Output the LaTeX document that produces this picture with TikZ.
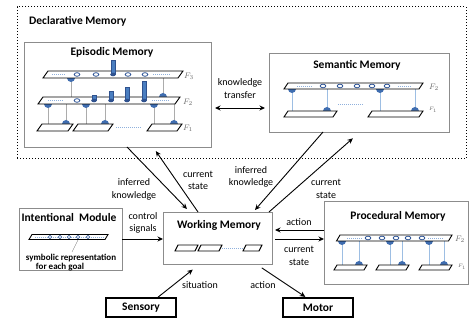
\documentclass[tikz,border=0pt]{standalone}
\usepackage{fontspec}
\setmainfont{Carlito}
\usetikzlibrary{arrows.meta}

\definecolor{boxgray}{HTML}{8C8C8C}
\definecolor{bumpblue}{HTML}{3F6DB0}
\definecolor{pillarblue}{HTML}{4A7EC0}
\definecolor{pillaredge}{HTML}{2F528F}
\definecolor{ringblue}{HTML}{2F5597}
\definecolor{linkblue}{HTML}{9DBEE3}
\definecolor{dotblue}{HTML}{8FB0DC}

\tikzset{
  memobox/.style={draw=boxgray, line width=0.7pt, fill=white, inner sep=0pt, outer sep=0pt},
  iobox/.style={draw=black, line width=1.1pt, fill=white, inner sep=0pt, outer sep=0pt,
    font=\fontsize{11.5}{13}\selectfont\bfseries},
  title/.style={font=\fontsize{11.5}{13}\selectfont\bfseries, inner sep=0pt},
  note/.style={font=\fontsize{9}{10}\selectfont\bfseries, inner sep=0pt},
  lbl/.style={font=\fontsize{10}{12.5}\selectfont, align=center, inner sep=0pt},
  flow/.style={-{Stealth[length=5.5pt,width=5pt]}, line width=0.9pt},
  twoway/.style={{Stealth[length=5.5pt,width=5pt]}-{Stealth[length=5.5pt,width=5pt]}, line width=0.9pt},
  slab/.style={draw=black, line width=0.9pt, fill=white},
  bump/.style={fill=bumpblue},
  graylink/.style={draw=gray!65, line width=0.8pt},
  bluelink/.style={draw=linkblue, line width=0.6pt},
  dotline/.style={draw=dotblue, dash pattern=on 1pt off 1pt, line width=0.6pt},
  ring/.style={draw=ringblue, line width=0.8pt, fill=white},
  flab/.style={font=\footnotesize, text=gray!80!black, inner sep=0pt}
}

% slab: x, top y, width, height, skew
\newcommand\slabat[5]{\draw[slab] (#1,#2) -- ++(#3,0) -- ++(-#5,#4) -- ++(-#3,0) -- cycle;}
% pillar: x, top y, base y
\newcommand\pillar[3]{%
  \draw[fill=pillarblue, draw=pillaredge, line width=0.4pt] (#1-2,#2) rectangle (#1+2,#3);
  \fill[pillaredge] (#1,#3) ellipse (2.8 and 1.8);}

\begin{document}
\begin{tikzpicture}[x=1pt, y=-1pt]
\useasboundingbox (0,0) rectangle (469,320);

% declarative memory frame
\node[draw, dotted, line width=1pt, minimum width=449pt, minimum height=152pt, inner sep=0pt] (decl) at (241.5,83) {};
\node[title, anchor=west] (declt) at (29,21) {Declarative Memory};

% boxes
\node[memobox, minimum width=187pt, minimum height=105pt] (epi) at (117.5,94.5) {};
\node[memobox, minimum width=180pt, minimum height=79pt] (sem) at (359,92.5) {};
\node[memobox, minimum width=109pt, minimum height=52pt] (wm) at (217.5,238) {};
\node[memobox, minimum width=103pt, minimum height=62pt] (intent) at (70.5,239) {};
\node[memobox, minimum width=144pt, minimum height=83pt] (proc) at (396,242.5) {};
\node[iobox, minimum width=70pt, minimum height=19pt] (sens) at (141,307.5) {Sensory};
\node[iobox, minimum width=70pt, minimum height=19pt] (motor) at (318,307.5) {Motor};

\node[title] (epit) at (112,52) {Episodic Memory};
\node[title] (semt) at (357,65) {Semantic Memory};
\node[title] (wmt) at (219,225) {Working Memory};
\node[title] (intt) at (69,218) {Intentional\ \ Module};
\node[title] (proct) at (398,216) {Procedural Memory};

% episodic layers F3, F2, F1
\foreach \x in {71,163} \draw[graylink] (\x,78) -- (\x,97);
\foreach \x in {48,66,86,105,154,174} \draw[graylink] (\x,104) -- (\x,124);
\fill[bump] (71,78) circle (4);
\fill[bump] (163,97) circle (4);
\foreach \x in {48,86,154} \fill[bump] (\x,104) circle (4);
\foreach \x in {66,105,174} \fill[bump] (\x,124) circle (4);
\slabat{48}{71}{135}{7}{5}
\slabat{43}{97}{137}{7}{5}
\slabat{42}{124}{31}{7}{5}
\slabat{78}{124}{35}{7}{5}
\slabat{152}{124}{30}{7}{5}
\draw[dotline] (52,74.5) -- (66,74.5) (153,74.5) -- (170,74.5);
\draw[dotline] (48,100.5) -- (64,100.5) (152,100.5) -- (169,100.5);
\draw[dotline] (116,127.5) -- (142,127.5);
\foreach \x in {77,96,128,145} \draw[ring] (\x,74.5) ellipse (2.8 and 1.8);
\draw[ring] (77,100.5) ellipse (2.8 and 1.8);
\pillar{113}{60}{74.5}
\pillar{94}{95}{100.5}
\pillar{111}{91}{100.5}
\pillar{127}{87}{100.5}
\pillar{144}{81}{100.5}
\node[flab] (ef3) at (189,76) {$F_3$};
\node[flab] (ef2) at (188,102) {$F_2$};
\node[flab] (ef1) at (188,128) {$F_1$};

% semantic layers
\foreach \x in {292,327,380,415} \draw[bluelink] (\x,89) -- (\x,111);
\foreach \x in {292,380} \fill[bump] (\x,89) circle (4);
\foreach \x in {327,415} \fill[bump] (\x,111) circle (4);
\slabat{288}{83}{135}{6}{4}
\slabat{288}{111}{49}{6}{4}
\slabat{372}{111}{51}{6}{4}
\draw[dotline] (297,86) -- (312,86) (398,86) -- (412,86);
\draw[dotline] (338,104) -- (363,104);
\foreach \x in {323,340,357,372,387} \draw[ring] (\x,86) ellipse (2.8 and 1.8);
\node[flab] (sf2) at (434,87) {$F_2$};
\node[flab, font=\tiny] (sf1) at (433,110) {$F_1$};

% procedural layers
\foreach \x in {342,359,390,402,429,444} \draw[bluelink] (\x,241) -- (\x,265);
\foreach \x in {342,390,429} \fill[bump] (\x,241) circle (4);
\foreach \x in {359,402,444} \fill[bump] (\x,265) circle (4);
\slabat{340}{235}{112}{6}{3.5}
\slabat{337}{265}{30}{5}{3}
\slabat{379}{265}{30}{5}{3}
\slabat{422}{265}{30}{5}{3}
\draw[dotline] (347,238) -- (362,238) (428,238) -- (443,238);
\foreach \x in {368,382,396,408,422} \draw[ring] (\x,238) ellipse (2.8 and 1.8);
\node[flab] (pf2) at (460,239) {$F_2$};
\node[flab, font=\tiny] (pf1) at (462,267) {$F_1$};

% goal slab in the intentional module
\slabat{32}{234.5}{76}{5}{3}
\draw[dotline] (35,237) -- (104,237);
\foreach \x in {50,60,69,78,88} \draw[ring, line width=0.6pt] (\x,237) circle (1.8);
\draw[gray, line width=0.4pt] (78,240) -- (72,252);
\node[note] (symt) at (71,258) {symbolic representation};
\node[note] (goalt) at (60,267.5) {for each goal};

% working memory slots
\slabat{178}{245}{20}{6}{3}
\slabat{201}{245}{21}{6}{3}
\slabat{246}{245}{16}{6}{3}
\draw[dotline] (222,248) -- (243,248);

% connectors
\draw[twoway] ([xshift=4pt,yshift=-13.5pt]epi.east) -- ([xshift=-4pt,yshift=-13.5pt]epi.east -| sem.west);
\draw[flow] ([xshift=9.5pt]epi.south) -- ([xshift=-30.5pt,yshift=3pt]wm.north);
\draw[flow, shorten >=5pt] ([xshift=-19.5pt]wm.north) -- ([xshift=35.5pt]epi.south);
\draw[flow] ([xshift=-36pt]sem.south) -- ([xshift=37.5pt,yshift=2pt]wm.north);
\draw[flow, shorten >=9.5pt] ([xshift=51.5pt]wm.north) -- ([xshift=1pt]sem.south);
\draw[flow] (intent.east) -- (intent.east -| wm.west);
\draw[flow, shorten >=9pt] ([xshift=16pt]sens.north) -- ([xshift=-17.7pt]wm.south);
\draw[flow, shorten <=7pt, shorten >=2pt] ([xshift=38.5pt]wm.south) -- ([xshift=-11pt]motor.north);
\draw[flow, shorten >=3pt] ([yshift=12.5pt]proc.west) -- ([yshift=12.5pt]proc.west -| wm.east);
\draw[flow, shorten <=3pt] ([yshift=3.5pt]proc.west -| wm.east) -- ([yshift=3.5pt]proc.west);

% connector labels
\node[lbl] (kt) at (240,88.5) {knowledge\\transfer};
\node[lbl] (ik1) at (134,189.5) {inferred\\knowledge};
\node[lbl] (cs1) at (198,180.5) {current\\state};
\node[lbl] (ik2) at (251,177) {inferred\\knowledge};
\node[lbl] (cs2) at (326,189) {current\\state};
\node[lbl] (ctl) at (143,223) {control\\signals};
\node[lbl] (sit) at (200,285) {situation};
\node[lbl] (act1) at (263,285) {action};
\node[lbl] (act2) at (299,222) {action};
\node[lbl] (cs3) at (299,256) {current\\state};
\end{tikzpicture}
\end{document}
